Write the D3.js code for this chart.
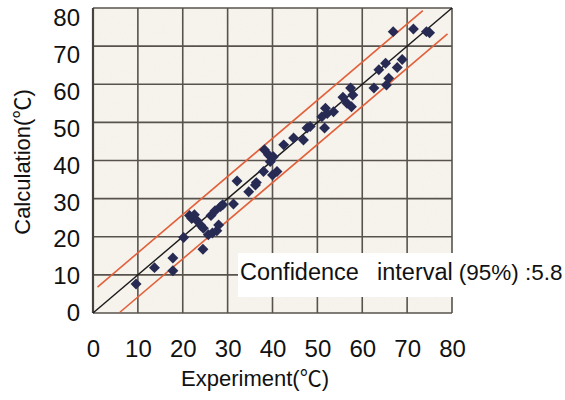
<!DOCTYPE html>
<html>
<head>
<meta charset="utf-8">
<script src="https://cdn.jsdelivr.net/npm/d3@7"></script>
<style>
  html, body { margin: 0; padding: 0; background: #fff; }
  svg text { font-family: "Liberation Sans", Arial, "Noto Sans CJK JP", sans-serif; fill: #111; }
</style>
</head>
<body>
<svg id="chart" width="565" height="400"></svg>
<script>
// Measured (experiment) vs calculated temperatures, °C
const experiment = [9.6, 13.7, 17.8, 17.8, 20.2, 21.5, 22.0, 22.6, 23.2, 24.0,
  24.6, 24.5, 25.7, 26.3, 26.6, 27.2, 27.6, 28.0, 28.4, 28.9,
  31.3, 32.1, 34.7, 36.2, 36.4, 38.0, 38.2, 39.1, 39.5, 40.2,
  40.0, 41.0, 42.5, 44.7, 46.9, 47.7, 48.4, 51.0, 51.8, 52.2,
  51.6, 53.6, 55.7, 56.6, 57.4, 57.9, 57.6, 62.6, 63.7, 65.2,
  65.9, 65.4, 67.8, 68.9, 66.9, 71.4, 74.3, 75.0];
const calculation = [7.6, 11.9, 14.4, 11.1, 19.8, 25.6, 24.8, 25.8, 24.2, 23.0,
  22.2, 16.7, 20.5, 25.6, 21.0, 26.8, 21.6, 23.1, 27.9, 28.4,
  28.6, 34.6, 31.8, 33.6, 34.2, 37.1, 42.8, 41.5, 39.7, 41.0,
  36.2, 37.1, 44.1, 45.9, 45.4, 48.5, 48.9, 51.5, 53.7, 52.3,
  48.5, 52.8, 56.6, 55.0, 59.0, 57.2, 54.1, 59.0, 63.8, 65.5,
  61.6, 59.8, 64.4, 66.5, 73.8, 74.5, 73.8, 73.5];
const ticks = [0, 10, 20, 30, 40, 50, 60, 70, 80];
const ci = 5.8;                      // 95% confidence half-width
const upperSpan = [1.0, 73.5];       // x extent of the upper band line
const lowerSpan = [6.0, 79.0];       // x extent of the lower band line

const svg = d3.select("#chart");
const x = d3.scaleLinear().domain([0, 80]).range([93, 452]);
const y = d3.scaleLinear().domain([0, 80]).range([313, 8]);
// tick labels sit on a slightly compressed ladder beside the grid
const yLabel = d3.scaleLinear().domain([0, 80]).range([313, 18]);

// paper-like grain for the plot area
const defs = svg.append("defs");
const f = defs.append("filter").attr("id", "grain").attr("x", 0).attr("y", 0)
  .attr("width", 1).attr("height", 1);
f.append("feTurbulence").attr("type", "fractalNoise").attr("baseFrequency", 0.9)
  .attr("numOctaves", 2).attr("seed", 3).attr("result", "n");
f.append("feColorMatrix").attr("type", "matrix")
  .attr("values", "0 0 0 0 0.6  0 0 0 0 0.5  0 0 0 0 0.4  0 0 0 0.35 -0.05");

// plot background
svg.append("rect")
  .attr("x", x(0)).attr("y", y(80))
  .attr("width", x(80) - x(0)).attr("height", y(0) - y(80))
  .attr("fill", "#f7f4ee");
svg.append("rect")
  .attr("x", x(0)).attr("y", y(80))
  .attr("width", x(80) - x(0)).attr("height", y(0) - y(80))
  .attr("filter", "url(#grain)").attr("opacity", 0.2);

// grid
const grid = svg.append("g").attr("stroke", "#57524c").attr("stroke-width", 1.6);
grid.selectAll("line.v").data(ticks).join("line").attr("class", "v")
  .attr("x1", d => x(d)).attr("x2", d => x(d))
  .attr("y1", y(0)).attr("y2", y(80));
grid.selectAll("line.h").data(ticks).join("line").attr("class", "h")
  .attr("x1", x(0)).attr("x2", x(80))
  .attr("y1", d => y(d)).attr("y2", d => y(d));
svg.append("line")
  .attr("x1", x(0)).attr("x2", x(0)).attr("y1", y(0)).attr("y2", y(80))
  .attr("stroke", "#47423d").attr("stroke-width", 2.2);

// identity line and confidence band
const line = d3.line().x(d => x(d[0])).y(d => y(d[1]));
svg.append("path").attr("d", line([[0, 0], [80, 80]]))
  .attr("stroke", "#1a1a1a").attr("stroke-width", 1.4).attr("fill", "none");
svg.append("path").attr("d", line(upperSpan.map(v => [v, v + ci])))
  .attr("stroke", "#e2603a").attr("stroke-width", 1.6).attr("fill", "none");
svg.append("path").attr("d", line(lowerSpan.map(v => [v, v - ci])))
  .attr("stroke", "#e2603a").attr("stroke-width", 1.6).attr("fill", "none");

// data points
const sym = d3.symbol().type(d3.symbolSquare).size(60);
svg.append("g").selectAll("path").data(d3.range(experiment.length)).join("path")
  .attr("d", sym)
  .attr("transform", i => `translate(${x(experiment[i])},${y(calculation[i])}) rotate(45)`)
  .attr("fill", "#272a52");

// legend box
svg.append("rect").attr("x", 238).attr("y", 253).attr("width", 327).attr("height", 44)
  .attr("fill", "#fff");
const legend = svg.append("text").attr("y", 280).attr("font-size", 23.5);
legend.append("tspan").attr("x", 240).text("Confidence");
legend.append("tspan").attr("x", 377).text("interval");
legend.append("tspan").attr("dx", 6).attr("font-size", 22.5).text(`(95%) :${ci}`);

// axes labels
const axY = svg.append("g").attr("transform", "translate(80,0)")
  .call(d3.axisLeft(yLabel).tickValues(ticks).tickSize(0).tickPadding(0));
axY.select(".domain").remove();
axY.selectAll("text").attr("font-size", 24).attr("fill", "#111")
  .style("font-family", "'Liberation Sans', Arial, sans-serif");

const axX = svg.append("g").attr("transform", "translate(0,340)")
  .call(d3.axisBottom(x).tickValues(ticks).tickSize(0).tickPadding(0));
axX.select(".domain").remove();
axX.selectAll("text").attr("font-size", 24).attr("fill", "#111")
  .style("font-family", "'Liberation Sans', Arial, sans-serif");

svg.append("text").attr("x", 255).attr("y", 386).attr("text-anchor", "middle")
  .attr("font-size", 22).text("Experiment(℃)");
svg.append("text").attr("transform", "translate(30,162) rotate(-90)")
  .attr("text-anchor", "middle").attr("font-size", 22).text("Calculation(℃)");
</script>
</body>
</html>
